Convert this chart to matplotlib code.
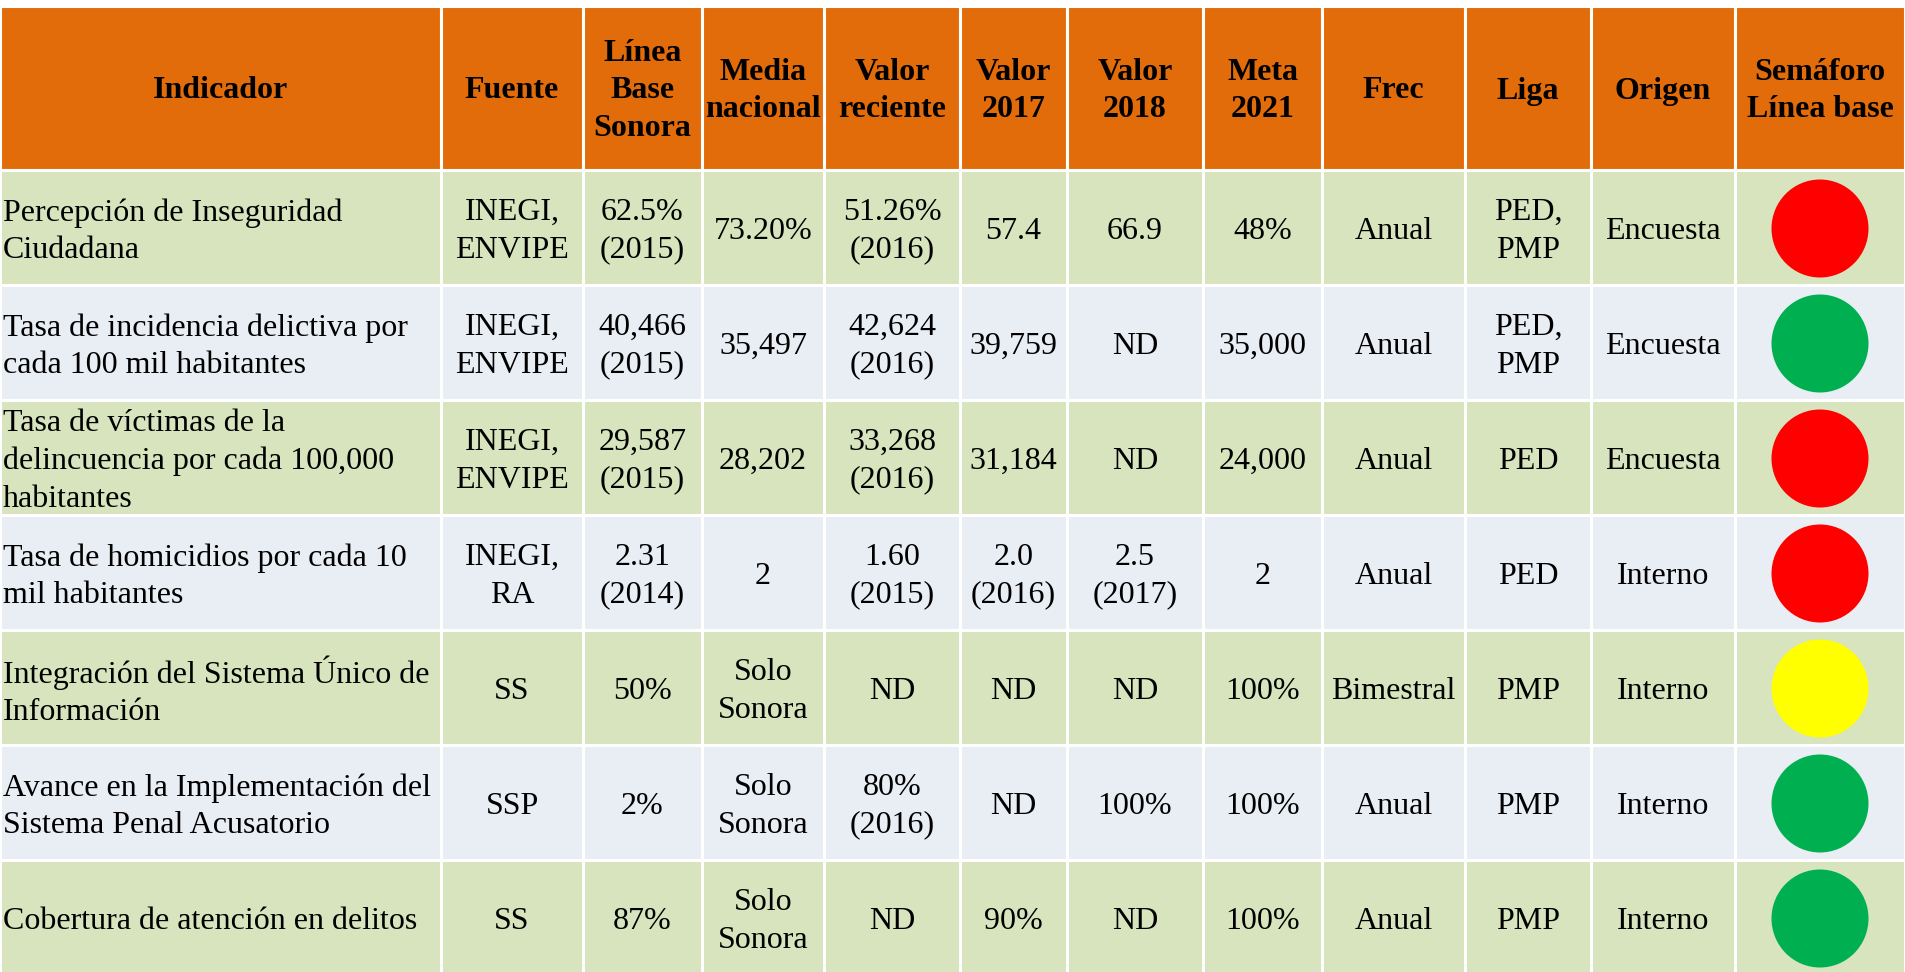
import matplotlib.pyplot as plt
from matplotlib.patches import Rectangle, Ellipse

# data
encabezados = ["Indicador", "Fuente", "Línea\nBase\nSonora", "Media\nnacional",
               "Valor\nreciente", "Valor\n2017", "Valor\n2018", "Meta\n2021",
               "Frec", "Liga", "Origen", "Semáforo\nLínea base"]
indicadores = ["Percepción de Inseguridad\nCiudadana",
               "Tasa de incidencia delictiva por\ncada 100 mil habitantes",
               "Tasa de víctimas de la\ndelincuencia por cada 100,000\nhabitantes",
               "Tasa de homicidios por cada 10\nmil habitantes",
               "Integración del Sistema Único de\nInformación",
               "Avance en la Implementación del\nSistema Penal Acusatorio",
               "Cobertura de atención en delitos"]
fuente = ["INEGI,\nENVIPE", "INEGI,\nENVIPE", "INEGI,\nENVIPE", "INEGI,\nRA", "SS", "SSP", "SS"]
linea_base = ["62.5%\n(2015)", "40,466\n(2015)", "29,587\n(2015)", "2.31\n(2014)", "50%", "2%", "87%"]
media_nacional = ["73.20%", "35,497", "28,202", "2", "Solo\nSonora", "Solo\nSonora", "Solo\nSonora"]
valor_reciente = ["51.26%\n(2016)", "42,624\n(2016)", "33,268\n(2016)", "1.60\n(2015)", "ND", "80%\n(2016)", "ND"]
valor_2017 = ["57.4", "39,759", "31,184", "2.0\n(2016)", "ND", "ND", "90%"]
valor_2018 = ["66.9", "ND", "ND", "2.5\n(2017)", "ND", "100%", "ND"]
meta_2021 = ["48%", "35,000", "24,000", "2", "100%", "100%", "100%"]
frec = ["Anual", "Anual", "Anual", "Anual", "Bimestral", "Anual", "Anual"]
liga = ["PED,\nPMP", "PED,\nPMP", "PED", "PED", "PMP", "PMP", "PMP"]
origen = ["Encuesta", "Encuesta", "Encuesta", "Interno", "Interno", "Interno", "Interno"]
semaforo = ["rojo", "verde", "rojo", "rojo", "amarillo", "verde", "verde"]

# layout (pixels)
W, H = 1905, 972
col_edges = [0, 441, 583, 702, 824, 960, 1067, 1203, 1322, 1465, 1591, 1735, 1905]
top, header_h, row_h = 6, 164, 115

ORANGE = "#E36C0A"
ROW_COLORS = ["#D7E4BD", "#E9EDF4"]
SEM_COLORS = {"rojo": "#FF0000", "verde": "#00B050", "amarillo": "#FFFF00"}
FONT = "Liberation Serif"
FS = 23
LS = 1.38

fig = plt.figure(figsize=(W / 100, H / 100), dpi=100)
ax = fig.add_axes([0, 0, 1, 1])
ax.set_xlim(0, W)
ax.set_ylim(H, 0)
ax.axis("off")

columnas = [indicadores, fuente, linea_base, media_nacional, valor_reciente,
            valor_2017, valor_2018, meta_2021, frec, liga, origen]

# header
for j, txt in enumerate(encabezados):
    x0, x1 = col_edges[j], col_edges[j + 1]
    ax.add_patch(Rectangle((x0, top), x1 - x0, header_h, facecolor=ORANGE,
                           edgecolor="white", linewidth=2.2))
    ax.text((x0 + x1) / 2, top + header_h / 2 + 3, txt, ha="center", va="center",
            fontsize=FS, fontweight="bold", family=FONT, linespacing=LS)

# body
for i in range(len(indicadores)):
    y0 = top + header_h + i * row_h
    yc = y0 + row_h / 2
    for j in range(len(col_edges) - 1):
        x0, x1 = col_edges[j], col_edges[j + 1]
        ax.add_patch(Rectangle((x0, y0), x1 - x0, row_h, facecolor=ROW_COLORS[i % 2],
                               edgecolor="white", linewidth=2.2))
    for j, col in enumerate(columnas):
        x0, x1 = col_edges[j], col_edges[j + 1]
        if j == 0:
            ax.text(x0 + 3, yc + 4, col[i], ha="left", va="center",
                    fontsize=FS, family=FONT, linespacing=LS)
        else:
            ax.text((x0 + x1) / 2, yc + 4, col[i], ha="center", va="center",
                    fontsize=FS, family=FONT, linespacing=LS)
    xs = (col_edges[-2] + col_edges[-1]) / 2
    ax.add_patch(Ellipse((xs, yc + 1), 97, 98, facecolor=SEM_COLORS[semaforo[i]],
                         edgecolor="none"))

fig.savefig("out.png", dpi=100)
